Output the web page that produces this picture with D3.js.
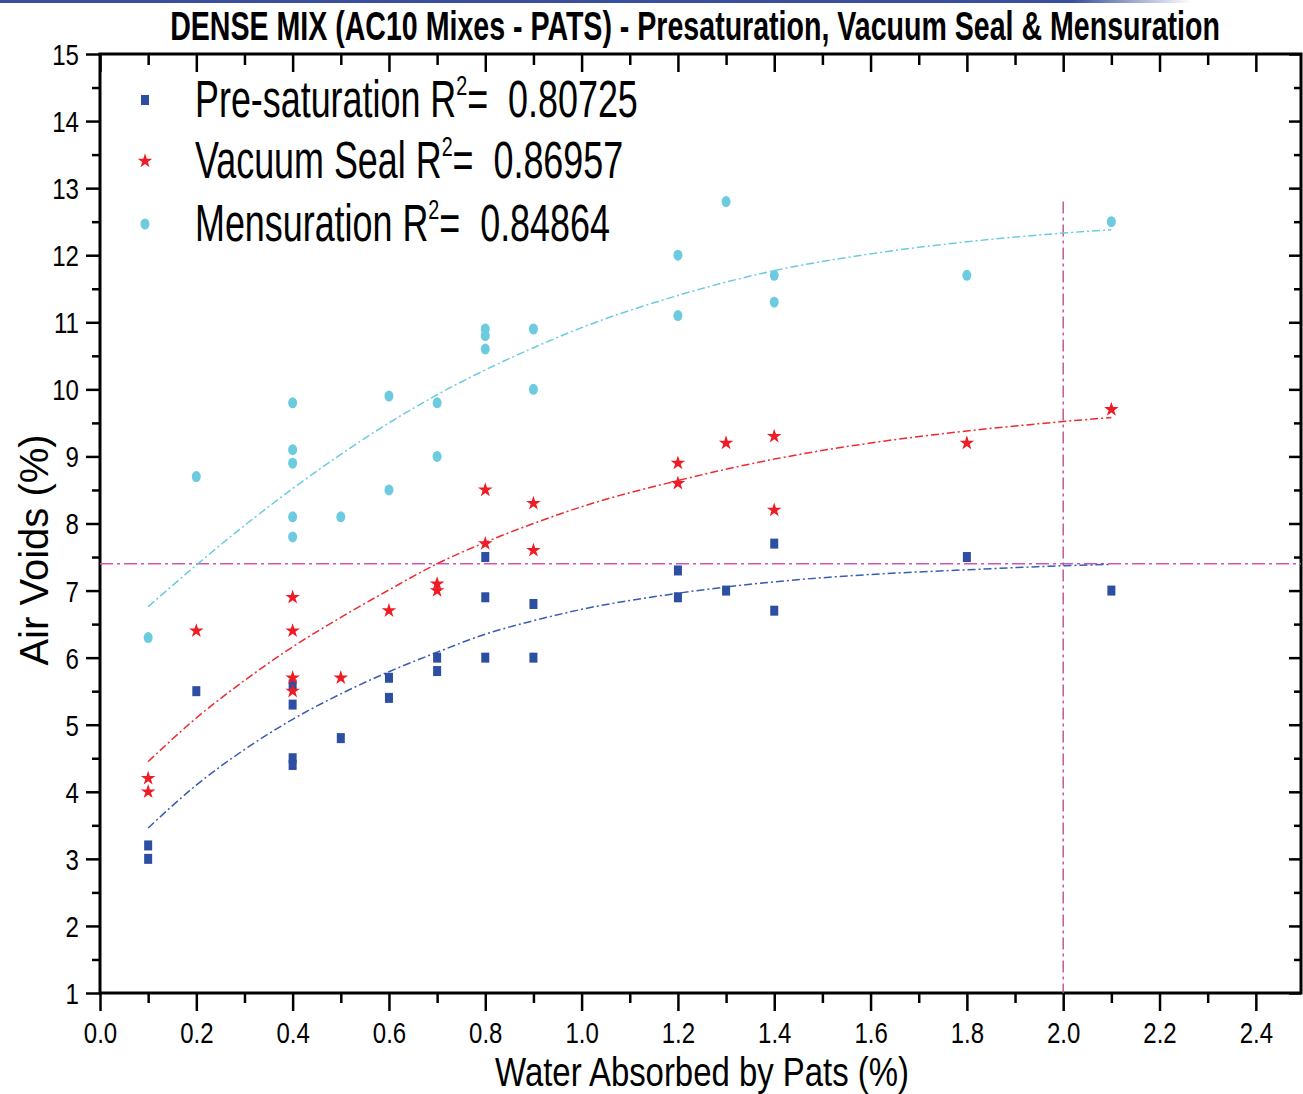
<!DOCTYPE html>
<html>
<head>
<meta charset="utf-8">
<script src="https://cdn.jsdelivr.net/npm/d3@7"></script>
<style>
  body { margin: 0; background: #fff; }
  svg { display: block; font-family: "Liberation Sans", Arial, sans-serif; }
  text { white-space: pre; }
</style>
</head>
<body>
<div id="chart"></div>
<script>
// data
const presatPoints = [
  [0.1, 3.2], [0.1, 3.0], [0.2, 5.5], [0.4, 5.6], [0.4, 5.3], [0.4, 4.5], [0.4, 4.4],
  [0.5, 4.8], [0.6, 5.7], [0.6, 5.4], [0.7, 6.0], [0.7, 5.8], [0.8, 7.5], [0.8, 6.9],
  [0.8, 6.0], [0.9, 6.8], [0.9, 6.0], [1.2, 7.3], [1.2, 6.9], [1.3, 7.0], [1.4, 7.7],
  [1.4, 6.7], [1.8, 7.5], [2.1, 7.0]
];
const vacuumPoints = [
  [0.1, 4.2], [0.1, 4.0], [0.2, 6.4], [0.4, 6.9], [0.4, 6.4], [0.4, 5.7], [0.4, 5.5],
  [0.5, 5.7], [0.6, 6.7], [0.7, 7.1], [0.7, 7.0], [0.8, 8.5], [0.8, 7.7], [0.9, 8.3],
  [0.9, 7.6], [1.2, 8.9], [1.2, 8.6], [1.3, 9.2], [1.4, 9.3], [1.4, 8.2], [1.8, 9.2],
  [2.1, 9.7]
];
const mensPoints = [
  [0.1, 6.3], [0.2, 8.7], [0.4, 9.8], [0.4, 9.1], [0.4, 8.9], [0.4, 8.1], [0.4, 7.8],
  [0.5, 8.1], [0.6, 9.9], [0.6, 8.5], [0.7, 9.8], [0.7, 9.0], [0.8, 10.9], [0.8, 10.8],
  [0.8, 10.6], [0.9, 10.9], [0.9, 10.0], [1.2, 12.0], [1.2, 11.1], [1.3, 12.8],
  [1.4, 11.7], [1.4, 11.3], [1.8, 11.7], [2.1, 12.5]
];

// fitted curves, read at these x values
const fitX = [0.1, 0.2, 0.3, 0.4, 0.5, 0.6, 0.7, 0.8, 0.9, 1.0, 1.2, 1.4, 1.6, 1.8, 2.0, 2.1];
const presatFit = [3.46, 4.10, 4.63, 5.08, 5.46, 5.79, 6.08, 6.35, 6.55, 6.72, 6.96, 7.13, 7.24, 7.31, 7.37, 7.39];
const vacuumFit = [4.45, 5.10, 5.66, 6.16, 6.60, 7.01, 7.40, 7.72, 8.00, 8.25, 8.64, 8.96, 9.20, 9.38, 9.52, 9.58];
const mensFit = [6.76, 7.38, 7.97, 8.52, 9.03, 9.50, 9.92, 10.29, 10.62, 10.92, 11.40, 11.77, 12.02, 12.20, 12.33, 12.38];

const legendLabels = ["Pre-saturation", "Vacuum Seal", "Mensuration"];
const r2Values = ["0.80725", "0.86957", "0.84864"];

const refY = 7.4;
const refX = 2.0;
const refXTop = 12.8;

const xMajor = [0, 0.2, 0.4, 0.6, 0.8, 1.0, 1.2, 1.4, 1.6, 1.8, 2.0, 2.2, 2.4];
const xMinor = [0.1, 0.3, 0.5, 0.7, 0.9, 1.1, 1.3, 1.5, 1.7, 1.9, 2.1, 2.3];
const yMajor = [1, 2, 3, 4, 5, 6, 7, 8, 9, 10, 11, 12, 13, 14, 15];
const yMinor = [1.5, 2.5, 3.5, 4.5, 5.5, 6.5, 7.5, 8.5, 9.5, 10.5, 11.5, 12.5, 13.5, 14.5];

const titleText = "DENSE MIX (AC10 Mixes - PATS) - Presaturation, Vacuum Seal & Mensuration";
const xTitle = "Water Absorbed by Pats (%)";
const yTitle = "Air Voids (%)";

const W = 1303, H = 1094;
const plotLeft = 100, plotRight = 1301, plotTop = 54, plotBottom = 993;

const svg = d3.select('#chart').append('svg')
    .attr('width', W)
    .attr('height', H);

// thin blue rule at the very top of the page
const grad = svg.append('defs').append('linearGradient').attr('id', 'topRule');
grad.append('stop').attr('offset', '0%').attr('stop-color', '#3a4f9e');
grad.append('stop').attr('offset', '90%').attr('stop-color', '#3a4f9e');
grad.append('stop').attr('offset', '100%').attr('stop-color', '#3a4f9e').attr('stop-opacity', 0);
svg.append('rect').attr('x', 0).attr('y', 0).attr('width', 1192).attr('height', 3).attr('fill', 'url(#topRule)');

// the frame is cut by the page edge a little before x = 2.5
const x = d3.scaleLinear().domain([0, 2.5]).range([plotLeft, 1304]);
const y = d3.scaleLinear().domain([1, 15]).range([plotBottom, plotTop]);

// squeeze a text element horizontally so that it is `target` px wide
function squeeze(sel, target, cx, cy) {
    const w = sel.node().getComputedTextLength();
    const s = target / w;
    sel.attr('x', 0).attr('y', 0)
        .attr('transform', 'translate(' + cx + ',' + cy + ') scale(' + s + ',1)');
    return s;
}

// title
const title = svg.append('text')
    .attr('text-anchor', 'middle')
    .attr('font-weight', 'bold')
    .attr('font-size', 40)
    .attr('fill', '#000')
    .text(titleText);
squeeze(title, 1050, 695, 40);

// axes
const axisColor = '#000';
function styleAxis(g) {
    g.select('.domain').remove();
    g.selectAll('line').attr('stroke', axisColor).attr('stroke-width', 2.5);
}

svg.append('g')
    .attr('transform', 'translate(0,' + plotBottom + ')')
    .call(d3.axisBottom(x).tickValues(xMajor).tickSize(18).tickFormat(d3.format('.1f')))
    .call(styleAxis)
    .call(g => g.selectAll('text')
        .attr('y', 0).attr('dy', 0)
        .attr('font-size', 30)
        .attr('font-family', '"Liberation Sans", Arial, sans-serif')
        .attr('fill', '#000')
        .attr('transform', 'translate(0,50) scale(0.8,1)'));
svg.append('g')
    .attr('transform', 'translate(0,' + plotBottom + ')')
    .call(d3.axisBottom(x).tickValues(xMinor).tickSize(10).tickFormat(''))
    .call(styleAxis);

svg.append('g')
    .attr('transform', 'translate(0,' + plotTop + ')')
    .call(d3.axisTop(x).tickValues(xMajor).tickSize(-18).tickFormat(''))
    .call(styleAxis);
svg.append('g')
    .attr('transform', 'translate(0,' + plotTop + ')')
    .call(d3.axisTop(x).tickValues(xMinor).tickSize(-11).tickFormat(''))
    .call(styleAxis);

svg.append('g')
    .attr('transform', 'translate(' + plotLeft + ',0)')
    .call(d3.axisLeft(y).tickValues(yMajor).tickSize(14).tickFormat(d3.format('d')))
    .call(styleAxis)
    .call(g => g.selectAll('text')
        .attr('x', 0).attr('dy', '0.36em')
        .attr('font-size', 29)
        .attr('font-family', '"Liberation Sans", Arial, sans-serif')
        .attr('fill', '#000')
        .attr('transform', 'translate(-21,0) scale(0.83,1)'));
svg.append('g')
    .attr('transform', 'translate(' + plotLeft + ',0)')
    .call(d3.axisLeft(y).tickValues(yMinor).tickSize(8).tickFormat(''))
    .call(styleAxis);

svg.append('g')
    .attr('transform', 'translate(' + plotRight + ',0)')
    .call(d3.axisRight(y).tickValues(yMajor).tickSize(-12).tickFormat(''))
    .call(styleAxis);
svg.append('g')
    .attr('transform', 'translate(' + plotRight + ',0)')
    .call(d3.axisRight(y).tickValues(yMinor).tickSize(-7).tickFormat(''))
    .call(styleAxis);

// frame
svg.append('rect')
    .attr('x', plotLeft).attr('y', plotTop)
    .attr('width', plotRight - plotLeft).attr('height', plotBottom - plotTop)
    .attr('fill', 'none')
    .attr('stroke', axisColor)
    .attr('stroke-width', 3);

// axis titles
const xt = svg.append('text')
    .attr('text-anchor', 'middle')
    .attr('font-size', 41)
    .attr('fill', '#000')
    .text(xTitle);
squeeze(xt, 414, 702, 1086);

svg.append('text')
    .attr('text-anchor', 'middle')
    .attr('font-size', 40)
    .attr('fill', '#000')
    .attr('transform', 'translate(48,550) rotate(-90)')
    .text(yTitle);

// reference lines
svg.append('line')
    .attr('x1', x(0)).attr('x2', plotRight)
    .attr('y1', y(refY)).attr('y2', y(refY))
    .attr('stroke', '#cc55b8')
    .attr('stroke-width', 1.6)
    .attr('stroke-dasharray', '13,4,3,4');
svg.append('line')
    .attr('x1', x(refX)).attr('x2', x(refX))
    .attr('y1', y(refXTop)).attr('y2', plotBottom)
    .attr('stroke', '#b8508f')
    .attr('stroke-width', 1.4)
    .attr('stroke-dasharray', '12,4,3,4');

// fitted curves
const colors = { presat: '#2c4ea3', vacuum: '#ee1c25', mens: '#6dcbe0' };
const fitColors = { presat: '#3a5cb0', vacuum: '#ee2a30', mens: '#6ccbe0' };
const curve = d3.line()
    .x(d => x(d[0]))
    .y(d => y(d[1]))
    .curve(d3.curveMonotoneX);

[[presatFit, fitColors.presat], [vacuumFit, fitColors.vacuum], [mensFit, fitColors.mens]].forEach(function (s) {
    svg.append('path')
        .datum(fitX.map((v, i) => [v, s[0][i]]))
        .attr('d', curve)
        .attr('fill', 'none')
        .attr('stroke', s[1])
        .attr('stroke-width', 1.5)
        .attr('stroke-dasharray', '8,3,2,3');
});

// points
svg.append('g').selectAll('rect')
    .data(presatPoints)
    .enter()
    .append('rect')
    .attr('x', d => x(d[0]) - 4)
    .attr('y', d => y(d[1]) - 5)
    .attr('width', 8)
    .attr('height', 10)
    .attr('fill', colors.presat);

const star = d3.symbol().type(d3.symbolStar).size(66);
svg.append('g').selectAll('path')
    .data(vacuumPoints)
    .enter()
    .append('path')
    .attr('d', star)
    .attr('transform', d => 'translate(' + x(d[0]) + ',' + y(d[1]) + ')')
    .attr('fill', colors.vacuum);

svg.append('g').selectAll('ellipse')
    .data(mensPoints)
    .enter()
    .append('ellipse')
    .attr('cx', d => x(d[0]))
    .attr('cy', d => y(d[1]))
    .attr('rx', 4.5)
    .attr('ry', 5.5)
    .attr('fill', colors.mens);

// legend
const legendRows = [100, 161, 224];
const legendBase = [117, 178, 241];
const lg = svg.append('g');
lg.append('rect').attr('x', 141).attr('y', legendRows[0] - 5).attr('width', 8).attr('height', 10).attr('fill', colors.presat);
lg.append('path').attr('d', star).attr('transform', 'translate(145,' + legendRows[1] + ')').attr('fill', colors.vacuum);
lg.append('ellipse').attr('cx', 145).attr('cy', legendRows[2]).attr('rx', 4.5).attr('ry', 5.5).attr('fill', colors.mens);

let legendScale = null;
legendLabels.forEach(function (lab, i) {
    const t = lg.append('text')
        .attr('font-size', 51)
        .attr('fill', '#000');
    t.append('tspan').text(lab + ' R');
    t.append('tspan').attr('dy', -22).attr('font-size', 28).text('2');
    t.append('tspan').attr('dy', 22).text('=  ' + r2Values[i]);
    if (legendScale === null) {
        legendScale = squeeze(t, 443, 195, legendBase[i]);
    } else {
        t.attr('x', 0).attr('y', 0)
            .attr('transform', 'translate(195,' + legendBase[i] + ') scale(' + legendScale + ',1)');
    }
});
</script>
</body>
</html>
